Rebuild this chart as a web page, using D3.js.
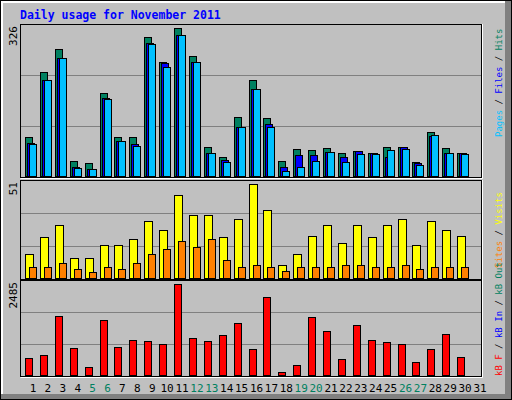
<!DOCTYPE html>
<html>
<head>
<meta charset="UTF-8">
<script src="https://d3js.org/d3.v7.min.js"></script>
<style>
  body { margin: 0; background: #fff; }
  text { font-family: "DejaVu Sans Mono", monospace; }
</style>
</head>
<body>
<svg width="512" height="400"></svg>
<script>
const days = d3.range(1, 32);
const weekends = [5, 6, 12, 13, 19, 20, 26, 27];
const hits  = [87,230,280,33,28,183,87,85,306,252,326,265,63,41,130,211,128,33,59,57,61,50,54,50,63,63,30,98,61,50];
const files = [72,211,259,20,15,172,78,70,293,248,311,252,50,35,109,191,115,20,46,46,52,41,54,50,41,63,28,89,50,50];
const pages = [70,211,261,17,15,170,78,67,291,241,311,252,50,30,109,191,109,11,20,33,52,30,48,48,57,59,24,91,50,48];
const visits = [13,22,29,11,11,18,18,21,31,26,45,34,34,22,32,51,37,7,13,23,29,19,29,22,29,32,18,31,26,23];
const sites  = [6,6,8,5,3,6,5,8,13,16,20,17,21,10,6,7,6,4,6,6,6,7,7,6,6,7,5,6,6,6];
const kbytes = [454,535,1624,726,209,1515,753,943,916,834,2485,998,916,1079,1433,698,2141,73,263,1596,1188,426,1379,943,889,834,345,698,1107,481];

const svg = d3.select("svg");
// frame
svg.append("rect").attr("x", 0).attr("y", 0).attr("width", 512).attr("height", 400).attr("fill", "#000");
svg.append("rect").attr("x", 1).attr("y", 1).attr("width", 510).attr("height", 398).attr("fill", "#808080");
svg.append("rect").attr("x", 1).attr("y", 1).attr("width", 504).attr("height", 393).attr("fill", "#fff");
svg.append("rect").attr("x", 3).attr("y", 3).attr("width", 502).attr("height", 391).attr("fill", "#c0c0c0");

svg.append("text").attr("x", 20).attr("y", 19).attr("fill", "#0000ff")
  .attr("font-size", 11.5).attr("font-weight", "bold").text("Daily usage for November 2011");

const x = d3.scaleBand().domain(days).range([25, 25 + 31 * 14.9]).padding(0);

function panel(y0, y1, max, label) {
  svg.append("rect").attr("x", 20.5).attr("y", y0 + 0.5).attr("width", 461).attr("height", y1 - y0)
    .attr("fill", "#c0c0c0").attr("stroke", "#000");
  svg.append("path").attr("d", `M20.5,${y1 + 1.5}H482.5V${y0}`).attr("stroke", "#fff").attr("fill", "none");
  const y = d3.scaleLinear().domain([0, max]).range([y1 - 1, y0 + 4]);
  const g = y1 - y0 - 2;
  [1, 2].forEach(i => {
    const gy = Math.round(y1 - 1 - g * i / 3) + 0.5;
    svg.append("line").attr("x1", 21).attr("x2", 481).attr("y1", gy).attr("y2", gy).attr("stroke", "#808080");
  });
  svg.append("text").attr("transform", `translate(17,${y0 + 2}) rotate(-90)`).attr("text-anchor", "end")
    .attr("font-size", 11).attr("fill", "#000").text(label);
  return y;
}

function bars(data, y, dx, w, color) {
  svg.append("g").selectAll("rect").data(data).join("rect")
    .attr("x", (d, i) => Math.round(x(days[i]) + dx) + 0.5)
    .attr("y", d => Math.round(y(d)) + 0.5)
    .attr("width", w)
    .attr("height", d => y(0) - Math.round(y(d)))
    .attr("fill", color).attr("stroke", "#000");
}

const y1 = panel(24, 177, 326, "326");
bars(hits, y1, 0, 7, "#008060");
bars(files, y1, 2, 7, "#0000ff");
bars(pages, y1, 4, 7, "#00c0ff");

const y2 = panel(180, 279, 51, "51");
bars(visits, y2, 0, 8, "#ffff00");
bars(sites, y2, 4, 7, "#ff8000");

const y3 = panel(280, 376, 2485, "2485");
bars(kbytes, y3, 0, 7, "#ff0000");

svg.append("g").selectAll("text").data(days).join("text")
  .attr("x", d => x(d) + 8).attr("y", 392).attr("text-anchor", "middle").attr("font-size", 11)
  .attr("fill", d => weekends.includes(d) ? "#008060" : "#000").text(d => d);

function sideLabel(yBottom, parts) {
  const t = svg.append("text").attr("transform", `translate(502,${yBottom}) rotate(-90)`)
    .attr("font-size", 9).attr("textLength", null);
  parts.forEach(([s, c]) => t.append("tspan").attr("fill", c).text(s));
}
sideLabel(137, [["Pages", "#00c0ff"], [" / ", "#000"], ["Files", "#0000ff"], [" / ", "#000"], ["Hits", "#008060"]]);
sideLabel(268, [["Sites", "#ff8000"], [" / ", "#000"], ["Visits", "#ffff00"]]);
sideLabel(376, [["kB F", "#ff0000"], [" / ", "#000"], ["kB In", "#0000ff"], [" / ", "#000"], ["kB Out", "#008060"]]);
</script>
</body>
</html>
